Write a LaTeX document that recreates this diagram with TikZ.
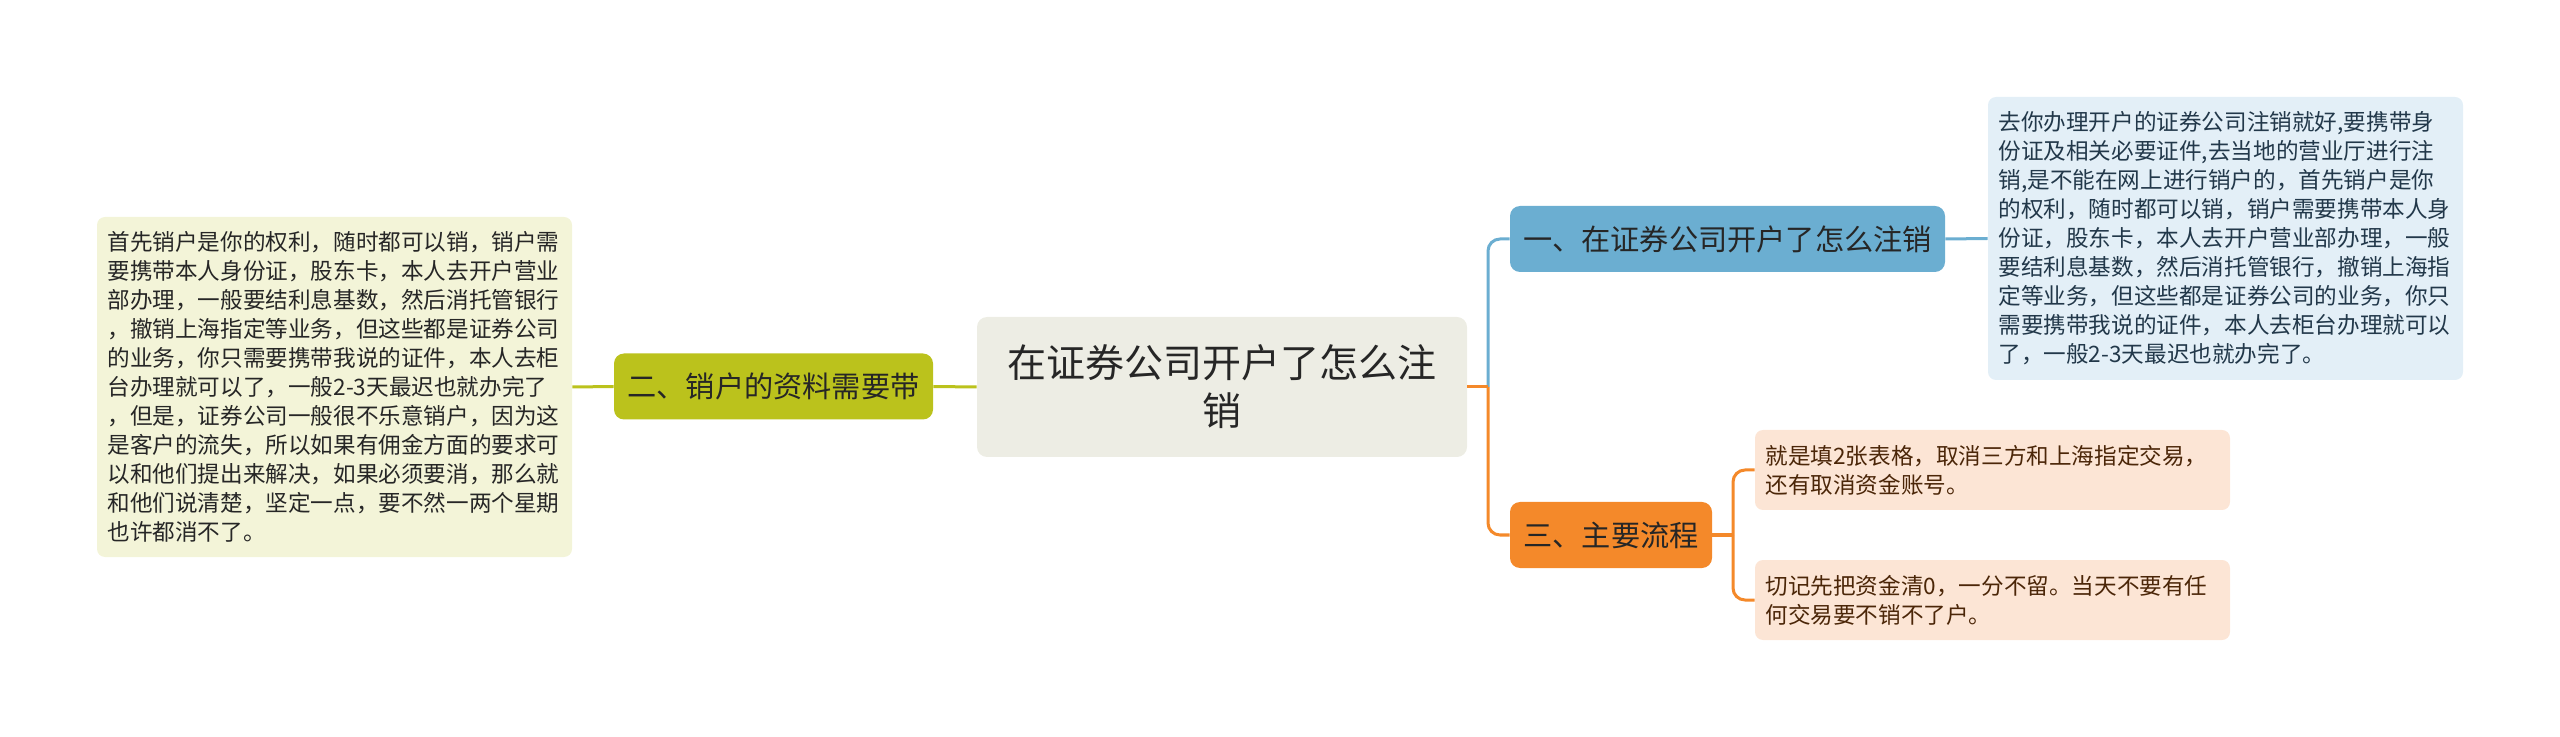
\documentclass[tikz,border=0pt]{standalone}
\usepackage{fontspec}
\setmainfont{Noto Sans CJK SC}
\usepackage{tikz}
\usetikzlibrary{positioning}
\definecolor{rootfill}{HTML}{EDEDE4}
\definecolor{greenmain}{HTML}{BBC21C}
\definecolor{greenleaf}{HTML}{F3F4D8}
\definecolor{bluemain}{HTML}{6BAED1}
\definecolor{blueleaf}{HTML}{E3EFF7}
\definecolor{bluetext}{HTML}{22384A}
\definecolor{orangemain}{HTML}{F4892A}
\definecolor{orangeleaf}{HTML}{FCE5D5}
\definecolor{orangetext}{HTML}{4B2608}
\begin{document}
\begin{tikzpicture}[x=0.5pt,y=-0.5pt,
root/.style={fill=rootfill,rounded corners=5pt,minimum width=245pt,minimum height=70pt,text width=230pt,align=center,font=\fontsize{19.5}{24}\selectfont,text=black!85},
branch/.style={rounded corners=5pt,minimum height=33pt,align=center,inner sep=0pt,font=\fontsize{14.6}{17}\selectfont,text=black!85},
leaf/.style={rounded corners=4pt,minimum width=237.5pt,text width=227pt,align=left,inner xsep=5.25pt,inner ysep=0pt,font=\fontsize{11.3}{14.5}\selectfont},
link/.style={line width=1.5pt,rounded corners=6pt}]
\useasboundingbox (0,0) rectangle (2560,737);
\node[root] (root) at (1222,387) {在证券公司开户了怎么注\\销};
\node[branch,fill=greenmain,minimum width=159.5pt] (b2) at (773.5,386.5) {二、销户的资料需要带};
\node[branch,fill=bluemain,minimum width=217.5pt] (b1) at (1727.5,239) {一、在证券公司开户了怎么注销};
\node[branch,fill=orangemain,minimum width=101pt] (b3) at (1611,535) {三、主要流程};
\node[leaf,fill=greenleaf,minimum height=170pt,text=black!85] (g1) at (334.5,387) {首先销户是你的权利，随时都可以销，销户需\\要携带本人身份证，股东卡，本人去开户营业\\部办理，一般要结利息基数，然后消托管银行\\，撤销上海指定等业务，但这些都是证券公司\\的业务，你只需要携带我说的证件，本人去柜\\台办理就可以了，一般2-3天最迟也就办完了\\，但是，证券公司一般很不乐意销户，因为这\\是客户的流失，所以如果有佣金方面的要求可\\以和他们提出来解决，如果必须要消，那么就\\和他们说清楚，坚定一点，要不然一两个星期\\也许都消不了。};
\node[leaf,fill=blueleaf,minimum height=141.5pt,text=bluetext] (l1) at (2225.5,238.5) {去你办理开户的证券公司注销就好,要携带身\\份证及相关必要证件,去当地的营业厅进行注\\销,是不能在网上进行销户的，首先销户是你\\的权利，随时都可以销，销户需要携带本人身\\份证，股东卡，本人去开户营业部办理，一般\\要结利息基数，然后消托管银行，撤销上海指\\定等业务，但这些都是证券公司的业务，你只\\需要携带我说的证件，本人去柜台办理就可以\\了，一般2-3天最迟也就办完了。};
\node[leaf,fill=orangeleaf,minimum height=40pt,text=orangetext] (o1) at (1992.5,470) {就是填2张表格，取消三方和上海指定交易，\\还有取消资金账号。};
\node[leaf,fill=orangeleaf,minimum height=40pt,text=orangetext] (o2) at (1992.5,600) {切记先把资金清0，一分不留。当天不要有任\\何交易要不销不了户。};
\coordinate (jr) at (1488,387);
\coordinate (jo) at (1733,535);
\draw[link,greenmain] (g1.east)--(b2.west);
\draw[link,greenmain] (b2.east)--(root.west);
\draw[link,bluemain] (jr)|-(b1.west);
\draw[link,bluemain] (b1.east)--(l1.west);
\draw[link,orangemain] (jr)|-(b3.west);
\draw[link,orangemain] (root.east)--(jr);
\draw[link,orangemain] (b3.east)--(jo);
\draw[link,orangemain] (jo)|-(o1.west);
\draw[link,orangemain] (jo)|-(o2.west);
\end{tikzpicture}
\end{document}
